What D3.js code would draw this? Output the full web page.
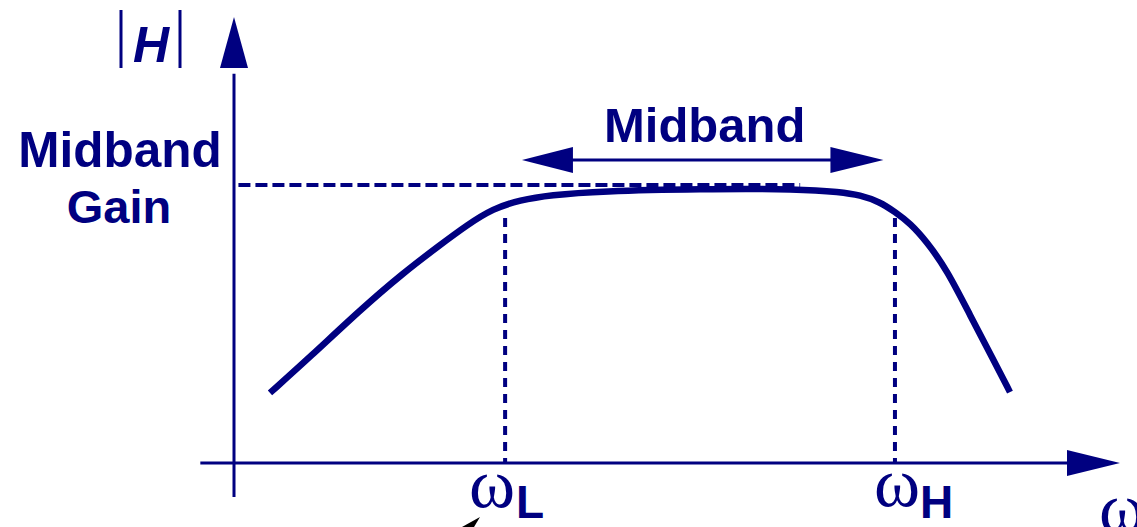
<!DOCTYPE html>
<meta charset="utf-8">
<style>
body { margin: 0; background: #fff; }
svg { display: block; }
.axis { stroke: #000080; stroke-width: 3px; fill: none; }
.head { fill: #000080; }
.curve { fill: none; stroke: #000080; stroke-width: 6.5px; stroke-linecap: butt; stroke-linejoin: round; }
.guide { fill: none; stroke: #000080; stroke-width: 4px; }
.label { fill: #000080; font-family: "Liberation Sans", Arial, sans-serif; font-weight: bold; }
.greek { fill: #000080; font-family: "Liberation Serif", "Times New Roman", serif; }
</style>
<body>
<script src="https://d3js.org/d3.v7.min.js"></script>
<script>
// |H| vs frequency, amplifier response sketch (normalised: midband gain = 1)
var freq = [4.06, 8.58, 14.22, 19.07, 23.25, 26.3, 29.23, 32.28, 35.67, 41.31, 52.6, 63.88, 68.4, 70.65, 72.91, 74.6, 76.3, 78.22, 80.47, 83.07, 85.67, 87.58];
var gain = [0.252, 0.381, 0.55, 0.683, 0.784, 0.856, 0.915, 0.946, 0.964, 0.978, 0.986, 0.986, 0.975, 0.964, 0.939, 0.903, 0.863, 0.795, 0.694, 0.532, 0.374, 0.255];

var wL = 30.6, wH = 74.6;           // corner frequencies
var midGain = 1;                     // dashed reference level
var bandArrow = [32.5, 73.3];        // extent of "Midband" double arrow
var bandArrowLevel = 1.09;

var width = 1137, height = 527;

var x = d3.scaleLinear().domain([0, 100]).range([234, 1120]);
var y = d3.scaleLinear().domain([0, 1]).range([463, 185]);

var svg = d3.select("body").append("svg")
    .attr("width", width)
    .attr("height", height);

// axes
svg.append("line").attr("class", "axis")
    .attr("x1", x(-3.8)).attr("x2", x(94.5))
    .attr("y1", y(0)).attr("y2", y(0));
svg.append("line").attr("class", "axis")
    .attr("x1", x(0)).attr("x2", x(0))
    .attr("y1", y(-0.122)).attr("y2", y(1.4));

// arrow heads
var xh = x(0), yh = y(0);
svg.append("path").attr("class", "head")
    .attr("d", "M" + (xh - 14) + "," + 68 + "L" + xh + "," + 17 + "L" + (xh + 14) + "," + 68 + "Z");
svg.append("path").attr("class", "head")
    .attr("d", "M" + 1067 + "," + (yh - 13) + "L" + 1120 + "," + yh + "L" + 1067 + "," + (yh + 13) + "Z");

// dashed guides
svg.append("line").attr("class", "guide")
    .attr("stroke-dasharray", "12,5")
    .attr("x1", x(0.5)).attr("x2", x(63.9))
    .attr("y1", y(midGain)).attr("y2", y(midGain));
[wL, wH].forEach(function(w) {
  svg.append("line").attr("class", "guide")
      .attr("stroke-dasharray", "9,7")
      .attr("x1", x(w)).attr("x2", x(w))
      .attr("y1", y(0.881)).attr("y2", y(0));
});

// response curve
var line = d3.line()
    .x(function(d, i) { return x(freq[i]); })
    .y(function(d) { return y(d); })
    .curve(d3.curveBasis);
svg.append("path").attr("class", "curve").attr("d", line(gain));

// midband double arrow
var ay = y(bandArrowLevel), a0 = x(bandArrow[0]), a1 = x(bandArrow[1]);
svg.append("line").attr("class", "axis")
    .attr("x1", a0 + 20).attr("x2", a1 - 20)
    .attr("y1", ay).attr("y2", ay);
svg.append("path").attr("class", "head")
    .attr("d", "M" + a0 + "," + ay + "L" + (a0 + 51) + "," + (ay - 13) + "L" + (a0 + 51) + "," + (ay + 13) + "Z");
svg.append("path").attr("class", "head")
    .attr("d", "M" + a1 + "," + ay + "L" + (a1 - 53) + "," + (ay - 13) + "L" + (a1 - 53) + "," + (ay + 13) + "Z");

// text
svg.append("text").attr("class", "label")
    .attr("x", (a0 + a1) / 2 + 2).attr("y", 142)
    .attr("text-anchor", "middle").style("font-size", "49px")
    .text("Midband");
svg.append("text").attr("class", "label")
    .attr("x", 120).attr("y", 167)
    .attr("text-anchor", "middle").style("font-size", "49.5px")
    .text("Midband");
svg.append("text").attr("class", "label")
    .attr("x", 119).attr("y", 223)
    .attr("text-anchor", "middle").style("font-size", "47px")
    .text("Gain");

// |H|
svg.append("line").attr("class", "axis")
    .attr("x1", 121).attr("x2", 121).attr("y1", 10).attr("y2", 68);
svg.append("line").attr("class", "axis")
    .attr("x1", 180).attr("x2", 180).attr("y1", 10).attr("y2", 68);
svg.append("text").attr("class", "label")
    .attr("x", 151).attr("y", 62)
    .attr("text-anchor", "middle").style("font-size", "50px").style("font-style", "italic")
    .text("H");

// omega labels
function omega(px, py, sub, sx) {
  svg.append("text").attr("class", "greek")
      .attr("x", px).attr("y", py)
      .style("font-size", "70px").text("ω");
  if (sub) {
    svg.append("text").attr("class", "label")
        .attr("x", sx).attr("y", 518)
        .style("font-size", "46px").text(sub);
  }
}
omega(x(wL) - 36, 507, "L", 516);
omega(x(wH) - 21, 506, "H", 920);
omega(1099, 531);

// stray cursor fragment at bottom edge
svg.append("path").attr("fill", "#000")
    .attr("d", "M462,527L480,517L474,527Z");
</script>
</body>
